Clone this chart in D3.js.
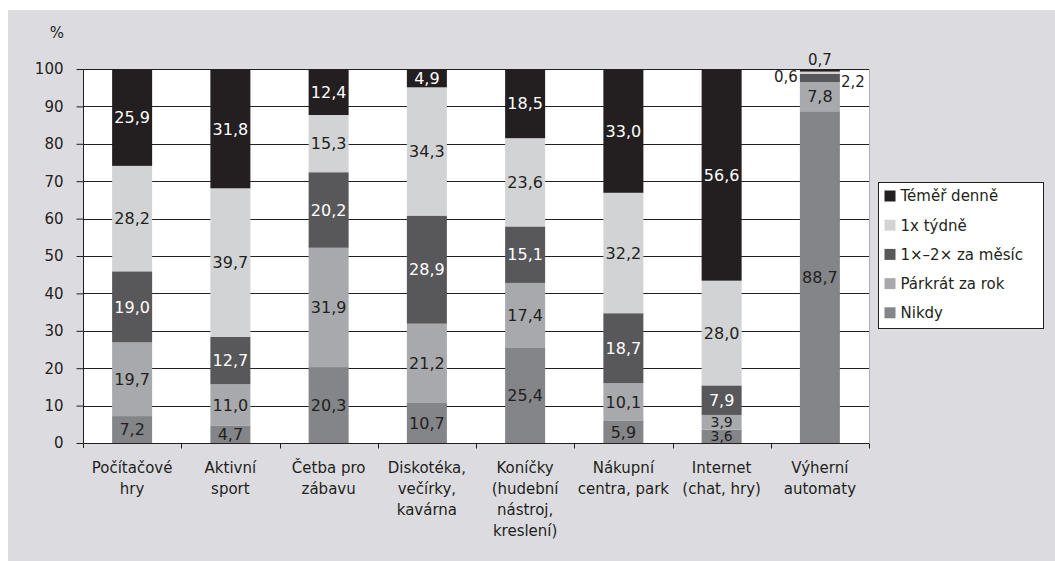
<!DOCTYPE html>
<html>
<head>
<meta charset="utf-8">
<script src="https://cdn.jsdelivr.net/npm/d3@7"></script>
<style>
  html, body { margin: 0; padding: 0; background: #ffffff; }
  svg text { font-family: "DejaVu Sans", sans-serif; fill: #231f20; }
</style>
</head>
<body>
<div id="chart"></div>
<script>
// categories (multi-line axis labels)
var categories = ["Počítačové hry", "Aktivní sport", "Četba pro zábavu", "Diskotéka, večírky, kavárna",
                  "Koníčky (hudební nástroj, kreslení)", "Nákupní centra, park", "Internet (chat, hry)", "Výherní automaty"];
var categoryLines = [["Počítačové", "hry"], ["Aktivní", "sport"], ["Četba pro", "zábavu"],
                     ["Diskotéka,", "večírky,", "kavárna"], ["Koníčky", "(hudební", "nástroj,", "kreslení)"],
                     ["Nákupní", "centra, park"], ["Internet", "(chat, hry)"], ["Výherní", "automaty"]];

// series, bottom to top
var seriesNames = ["Nikdy", "Párkrát za rok", "1×–2× za měsíc", "1x týdně", "Téměř denně"];
var nikdy   = [7.2, 4.7, 20.3, 10.7, 25.4, 5.9, 3.6, 88.7];
var parkrat = [19.7, 11.0, 31.9, 21.2, 17.4, 10.1, 3.9, 7.8];
var mesic   = [19.0, 12.7, 20.2, 28.9, 15.1, 18.7, 7.9, 2.2];
var tydne   = [28.2, 39.7, 15.3, 34.3, 23.6, 32.2, 28.0, 0.6];
var denne   = [25.9, 31.8, 12.4, 4.9, 18.5, 33.0, 56.6, 0.7];
var seriesValues = [nikdy, parkrat, mesic, tydne, denne];

var yTicks = [0, 10, 20, 30, 40, 50, 60, 70, 80, 90, 100];

// labels drawn outside the bar (tiny segments)
var outsideLabels = [
  { cat: "Výherní automaty", series: "Téměř denně", pos: "top" },
  { cat: "Výherní automaty", series: "1x týdně", pos: "left" },
  { cat: "Výherní automaty", series: "1×–2× za měsíc", pos: "right" }
];

var colors = ["#848589", "#a8a9ad", "#58585b", "#d2d3d5", "#231f20"];
var labelColors = ["#231f20", "#231f20", "#ffffff", "#231f20", "#ffffff"];

var width = 1055, height = 561;
var plot = { left: 83, right: 869, top: 69, bottom: 443 };
var barWidth = 40;

var svg = d3.select("#chart").append("svg")
    .attr("width", width)
    .attr("height", height);

svg.append("rect")
    .attr("x", 8).attr("y", 10)
    .attr("width", width - 8).attr("height", height - 10)
    .attr("fill", "#dcdce0");

var xScale = d3.scaleBand()
    .domain(categories)
    .range([plot.left, plot.right])
    .paddingInner(0).paddingOuter(0);

var yScale = d3.scaleLinear()
    .domain([0, 100])
    .range([plot.bottom, plot.top]);

svg.append("rect")
    .attr("x", plot.left).attr("y", plot.top)
    .attr("width", plot.right - plot.left)
    .attr("height", plot.bottom - plot.top)
    .attr("fill", "#ffffff");

// right border
svg.append("line")
    .attr("x1", plot.right + 0.5).attr("x2", plot.right + 0.5)
    .attr("y1", plot.top).attr("y2", plot.bottom)
    .attr("stroke", "#b0b0b4").attr("stroke-width", 1);

// gridlines
svg.append("g").selectAll("line")
    .data(yTicks)
    .enter().append("line")
    .attr("x1", plot.left).attr("x2", plot.right)
    .attr("y1", function(d){ return Math.round(yScale(d)) + 0.5; })
    .attr("y2", function(d){ return Math.round(yScale(d)) + 0.5; })
    .attr("stroke", "#231f20").attr("stroke-width", 1);

// stack data
var rows = categories.map(function(c, i){
    var r = { cat: c };
    seriesNames.forEach(function(s, k){ r[s] = seriesValues[k][i]; });
    return r;
});
var stacked = d3.stack().keys(seriesNames)(rows);

var fmt = function(v){ return d3.format(".1f")(v).replace(".", ","); };
function barX(cat){ return xScale(cat) + (xScale.bandwidth() - barWidth) / 2; }
function isOutside(cat, s){
    return outsideLabels.some(function(o){ return o.cat === cat && o.series === s; });
}

var layer = svg.append("g").selectAll("g")
    .data(stacked)
    .enter().append("g")
    .attr("fill", function(d, k){ return colors[k]; });

layer.selectAll("rect")
    .data(function(d){ return d; })
    .enter().append("rect")
    .attr("x", function(d){ return barX(d.data.cat); })
    .attr("width", barWidth)
    .attr("y", function(d){ return yScale(Math.min(100, d[1])); })
    .attr("height", function(d){ return yScale(d[0]) - yScale(Math.min(100, d[1])); });

// labels inside bars
stacked.forEach(function(layerData, k){
    var s = seriesNames[k];
    svg.append("g").selectAll("text")
        .data(layerData.filter(function(d){ return !isOutside(d.data.cat, s); }))
        .enter().append("text")
        .attr("x", function(d){ return xScale(d.data.cat) + xScale.bandwidth() / 2; })
        .attr("y", function(d){ return yScale((d[0] + d[1]) / 2); })
        .attr("dy", "0.36em")
        .attr("text-anchor", "middle")
        .style("font-size", function(d){ return (d[1] - d[0]) < 4 ? "14px" : "16px"; })
        .style("fill", labelColors[k])
        .text(function(d){ return fmt(d[1] - d[0]); });
});

// labels outside bars
outsideLabels.forEach(function(o){
    var k = seriesNames.indexOf(o.series);
    var i = categories.indexOf(o.cat);
    var seg = stacked[k][i];
    var t = svg.append("text")
        .style("font-size", "15px")
        .text(fmt(seg[1] - seg[0]));
    if (o.pos === "top") {
        t.attr("x", xScale(o.cat) + xScale.bandwidth() / 2)
         .attr("y", yScale(100) - 4)
         .attr("text-anchor", "middle");
    } else if (o.pos === "left") {
        t.attr("x", barX(o.cat) - 2)
         .attr("y", yScale((seg[0] + seg[1]) / 2) + 4)
         .attr("dy", "0.36em")
         .attr("text-anchor", "end");
    } else {
        t.attr("x", barX(o.cat) + barWidth + 1)
         .attr("y", yScale((seg[0] + seg[1]) / 2) + 4)
         .attr("dy", "0.36em")
         .attr("text-anchor", "start");
    }
});

// y axis
var yAxis = d3.axisLeft(yScale).tickValues(yTicks).tickSize(7).tickPadding(13);
var gy = svg.append("g")
    .attr("transform", "translate(" + (plot.left + 0.5) + ",0)")
    .call(yAxis);
gy.select(".domain").remove();
gy.selectAll(".tick line").attr("stroke", "#231f20");
gy.selectAll(".tick text").style("font-size", "15px").style("font-family", "DejaVu Sans").attr("fill", "#231f20");
svg.append("line")
    .attr("x1", plot.left + 0.5).attr("x2", plot.left + 0.5)
    .attr("y1", plot.top).attr("y2", plot.bottom + 5)
    .attr("stroke", "#231f20");

svg.append("text")
    .attr("x", 57).attr("y", 38)
    .attr("text-anchor", "middle")
    .style("font-size", "15px")
    .text("%");

// x axis
var xAxis = d3.axisBottom(xScale).tickSize(0).tickFormat("");
var gx = svg.append("g")
    .attr("transform", "translate(0," + (Math.round(plot.bottom) + 0.5) + ")")
    .call(xAxis);
gx.select(".domain").attr("stroke", "#231f20").attr("d", "M" + plot.left + ",0H" + plot.right);

// boundary ticks
var bounds = categories.map(function(c){ return xScale(c) + xScale.bandwidth(); });
gx.selectAll(".btick")
    .data(bounds)
    .enter().append("line")
    .attr("x1", function(d){ return Math.round(d) + 0.5; })
    .attr("x2", function(d){ return Math.round(d) + 0.5; })
    .attr("y1", 0).attr("y2", 5)
    .attr("stroke", "#231f20");

gx.selectAll(".tick").each(function(c){
    var i = categories.indexOf(c);
    var t = d3.select(this).append("text")
        .attr("text-anchor", "middle")
        .style("font-size", "15px")
        .style("font-family", "DejaVu Sans")
        .attr("fill", "#231f20");
    categoryLines[i].forEach(function(line, j){
        t.append("tspan")
            .attr("x", 0)
            .attr("y", 29 + j * 21.3)
            .text(line);
    });
});

// legend
var legend = svg.append("g").attr("transform", "translate(878.5,182.5)");
legend.append("rect")
    .attr("width", 165).attr("height", 146)
    .attr("fill", "#ffffff")
    .attr("stroke", "#231f20");
var legendOrder = seriesNames.slice().reverse();
var items = legend.selectAll(".item")
    .data(legendOrder)
    .enter().append("g")
    .attr("transform", function(d, i){ return "translate(0," + (13.5 + i * 29.2) + ")"; });
items.append("rect")
    .attr("x", 6).attr("y", -5.5)
    .attr("width", 11).attr("height", 11)
    .attr("fill", function(d){ return colors[seriesNames.indexOf(d)]; });
items.append("text")
    .attr("x", 22).attr("y", 0)
    .attr("dy", "0.36em")
    .style("font-size", "15px")
    .text(function(d){ return d; });
</script>
</body>
</html>
